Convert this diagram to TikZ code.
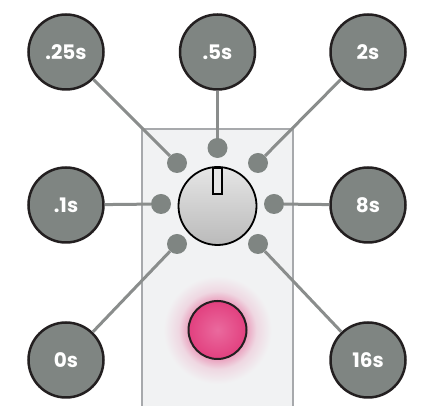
\documentclass[tikz,border=0pt]{standalone}
\usepackage{fontspec}
\newfontfamily\labelfont{Poppins}
\definecolor{dotgray}{HTML}{7F8582}
\definecolor{wiregray}{HTML}{8A8D8C}
\definecolor{outline}{HTML}{231F20}
\definecolor{panel}{HTML}{F1F2F3}
\definecolor{panelline}{HTML}{A7A9AC}
\definecolor{ledpink}{HTML}{E2407F}
\definecolor{ledlight}{HTML}{EA6A9E}
\pgfdeclareradialshading{glow}{\pgfpoint{0bp}{0bp}}{color(0bp)=(ledpink); color(13.5bp)=(ledpink!45!panel); color(18bp)=(ledpink!15!panel); color(25bp)=(panel); color(50bp)=(panel)}

\begin{document}
\begin{tikzpicture}[x=1pt,y=1pt,
    timer/.style={circle, draw=outline, line width=2.5pt, fill=dotgray, minimum size=75pt,
      inner sep=0pt, text=white, font=\labelfont\bfseries\fontsize{20}{20}\selectfont},
    dot/.style={circle, fill=dotgray, minimum size=20pt, inner sep=0pt},
    wire/.style={draw=wiregray, line width=3pt}]
    \useasboundingbox (0,0) rectangle (426,406);
    % panel
    \fill[panel] (142,-5) rectangle (293,277);
    \draw[panelline, line width=2pt] (142,-5) -- (142,277) -- (293,277) -- (293,-5);
    % led with glow
    \shade[shading=glow] (217.5,76) circle (54);
    \node[circle, draw=outline, line width=2pt, minimum size=58pt, inner sep=0pt,
      inner color=ledlight, outer color=ledpink] (led) at (217.5,76) {};
    % knob
    \node[circle, draw=black, line width=1.8pt, minimum size=78pt, inner sep=0pt,
      top color=black!10, bottom color=black!27] (knob) at (217.5,200) {};
    \draw[black, line width=1.5pt, fill=black!10] (213,212) rectangle (222,238);
    % positions
    \node[dot] (top) at (217.5,258) {};
    \node[dot] (ul) at (177,243) {};
    \node[dot] (ur) at (258,243) {};
    \node[dot] (l) at (161,202) {};
    \node[dot] (r) at (274,202) {};
    \node[dot] (ll) at (177,162) {};
    \node[dot] (lr) at (258,162) {};
    % times
    \node[timer] (t025) at (66,354) {.25s};
    \node[timer] (t05) at (217.5,354) {.5s};
    \node[timer] (t2) at (368,354) {2s};
    \node[timer] (t01) at (66,201) {.1s};
    \node[timer] (t8) at (368,201) {8s};
    \node[timer] (t0) at (66,46) {0s};
    \node[timer] (t16) at (368,46) {16s};
    % wires
    \draw[wire] (t025) -- (ul);
    \draw[wire] (t05) -- (top);
    \draw[wire] (t2) -- (ur);
    \draw[wire] (t01) -- (l);
    \draw[wire] (t8) -- (r);
    \draw[wire] (t0) -- (ll);
    \draw[wire] (t16) -- (lr);
\end{tikzpicture}
\end{document}
